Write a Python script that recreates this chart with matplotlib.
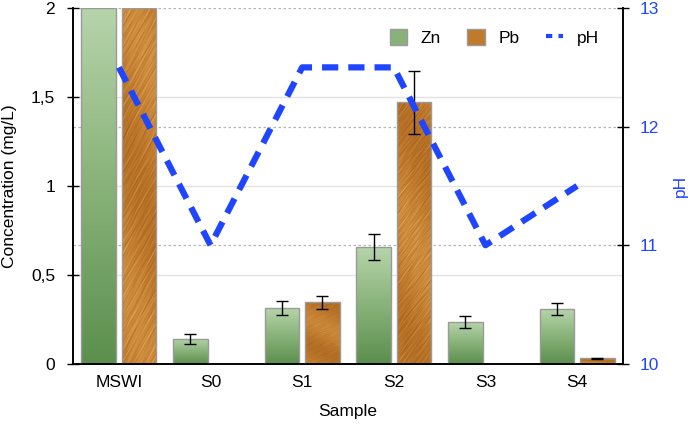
import numpy as np
import matplotlib
matplotlib.use("Agg")
import matplotlib.pyplot as plt
from matplotlib.colors import LinearSegmentedColormap
from matplotlib.patches import Patch
from matplotlib.lines import Line2D

plt.rcParams["font.family"] = ["Liberation Sans", "DejaVu Sans"]

# --- data ------------------------------------------------------------------
samples = ["MSWI", "S0", "S1", "S2", "S3", "S4"]
zn = [2.0, 0.142, 0.313, 0.656, 0.234, 0.307]
zn_err = [0.0, 0.028, 0.041, 0.072, 0.033, 0.033]
pb = [2.0, 0.0, 0.345, 1.47, 0.0, 0.030]
pb_err = [0.0, 0.0, 0.038, 0.177, 0.0, 0.003]
ph = [12.5, 11.0, 12.5, 12.5, 11.0, 11.5]

CONC_LIM = (0, 2)
PH_LIM = (10, 13)
BLUE = "#1f45ff"

green_cmap = LinearSegmentedColormap.from_list("zn", ["#5c8f4e", "#88b279", "#b6d4aa"])
orange_cmap = LinearSegmentedColormap.from_list("pb", ["#945216", "#c07a2c", "#e9b466"])


def green_fill():
    # vertical gradient, light on top
    t = np.linspace(0, 1, 120)[:, None] * np.ones((1, 20))
    return t


def brushed_fill(seed):
    # deterministic diagonal "brushed" streaks built from layered sines
    ny, nx = 300, 40
    y, x = np.mgrid[0:ny, 0:nx].astype(float)
    u = x * 0.8 - y * 0.6
    v = np.zeros_like(u)
    g = 0.618
    for k in range(1, 10):
        f = 0.4 + ((k * g + seed) % 1.0) * 3.0
        ph_ = k * 2.39 + seed * 1.7
        v += np.sin(u * f + np.sin(y * 0.02 * k + ph_) * 2 + ph_) / (1 + 0.3 * k)
    v += 1.2 * np.sin(y * 0.025 + x * 0.05 + seed * 3.1)
    v = (v - v.min()) / (v.max() - v.min())
    return v


def textured_bars(ax, xs, heights, width, kind):
    bars = ax.bar(xs, heights, width, facecolor="none",
                  edgecolor="#9a9a9a", linewidth=1.0, zorder=3)
    for i, b in enumerate(bars):
        h = b.get_height()
        if h <= 0:
            continue
        x0 = b.get_x()
        img = green_fill() if kind == "zn" else brushed_fill(i * 0.37)
        cmap = green_cmap if kind == "zn" else orange_cmap
        im = ax.imshow(img, extent=(x0, x0 + width, 0, h), origin="lower",
                       cmap=cmap, vmin=0, vmax=1, aspect="auto",
                       interpolation="bilinear", zorder=2)
        im.set_clip_path(b)
    return bars


fig = plt.figure(figsize=(6.96, 4.26), dpi=100)
ax = fig.add_axes([0.105, 0.146, 0.79, 0.835])
ax2 = ax.twinx()

x = np.arange(len(samples))
w = 0.38
off = 0.22

# grid: solid at concentration ticks, dotted at pH ticks
for c in [0.5, 1.0, 1.5]:
    ax.axhline(c, color="#e3e3e3", lw=1.0, zorder=0)
for p in [11, 12, 13]:
    c = (p - PH_LIM[0]) / (PH_LIM[1] - PH_LIM[0]) * CONC_LIM[1]
    ax.axhline(c, color="#b5b5b5", lw=0.9, ls=(0, (2, 2)), zorder=0.5)

textured_bars(ax, x - off, zn, w, "zn")
textured_bars(ax, x + off, pb, w, "pb")

for xs, vals, errs in [(x - off, zn, zn_err), (x + off, pb, pb_err)]:
    m = np.array(errs) > 0
    ax.errorbar(np.asarray(xs)[m], np.asarray(vals)[m], yerr=np.asarray(errs)[m],
                fmt="none", ecolor="black", elinewidth=1.0, capsize=4,
                capthick=1.0, zorder=5)

ax.set_xlim(-0.5, 5.5)
ax.set_ylim(*CONC_LIM)
ax.set_xticks(x)
ax.set_xticklabels(samples)
ax.set_yticks([0, 0.5, 1, 1.5, 2])
ax.set_yticklabels(["0", "0,5", "1", "1,5", "2"])
ax.tick_params(axis="y", direction="inout", length=8, width=1, labelsize=12.5, pad=9)
ax.tick_params(axis="x", length=0, labelsize=12.5, pad=8)
ax.set_xlabel("Sample", fontsize=12.5, labelpad=10)
ax.set_ylabel("Concentration (mg/L)", fontsize=12.5, labelpad=10)
ax.spines["top"].set_visible(False)
ax2.spines["top"].set_visible(False)
for a in (ax, ax2):
    a.spines["left"].set_linewidth(1.2)
    a.spines["right"].set_linewidth(1.2)
    a.spines["bottom"].set_linewidth(1.2)

ax2.plot(x, ph, color=BLUE, lw=4.5, ls=(0, (2.6, 1.6)), zorder=6)
ax2.set_ylim(*PH_LIM)
ax2.set_yticks([10, 11, 12, 13])
ax2.tick_params(axis="y", direction="inout", length=8, width=1,
                labelsize=12.5, labelcolor=BLUE, pad=8)
ax2.set_ylabel("pH", fontsize=12.5, color=BLUE, labelpad=10)

handles = [Patch(facecolor="#88b279", edgecolor="#9a9a9a", label="Zn"),
           Patch(facecolor="#c07a2c", edgecolor="#9a9a9a", label="Pb"),
           Line2D([], [], color=BLUE, lw=3, ls=(0, (1.5, 1.5)), label="pH")]
ax2.legend(handles=handles, loc="upper right", ncol=3, frameon=False,
           fontsize=12.5, handlelength=1.0, handleheight=1.0,
           columnspacing=1.5, handletextpad=0.8,
           bbox_to_anchor=(0.985, 0.985))

fig.savefig("out.png", dpi=100)
